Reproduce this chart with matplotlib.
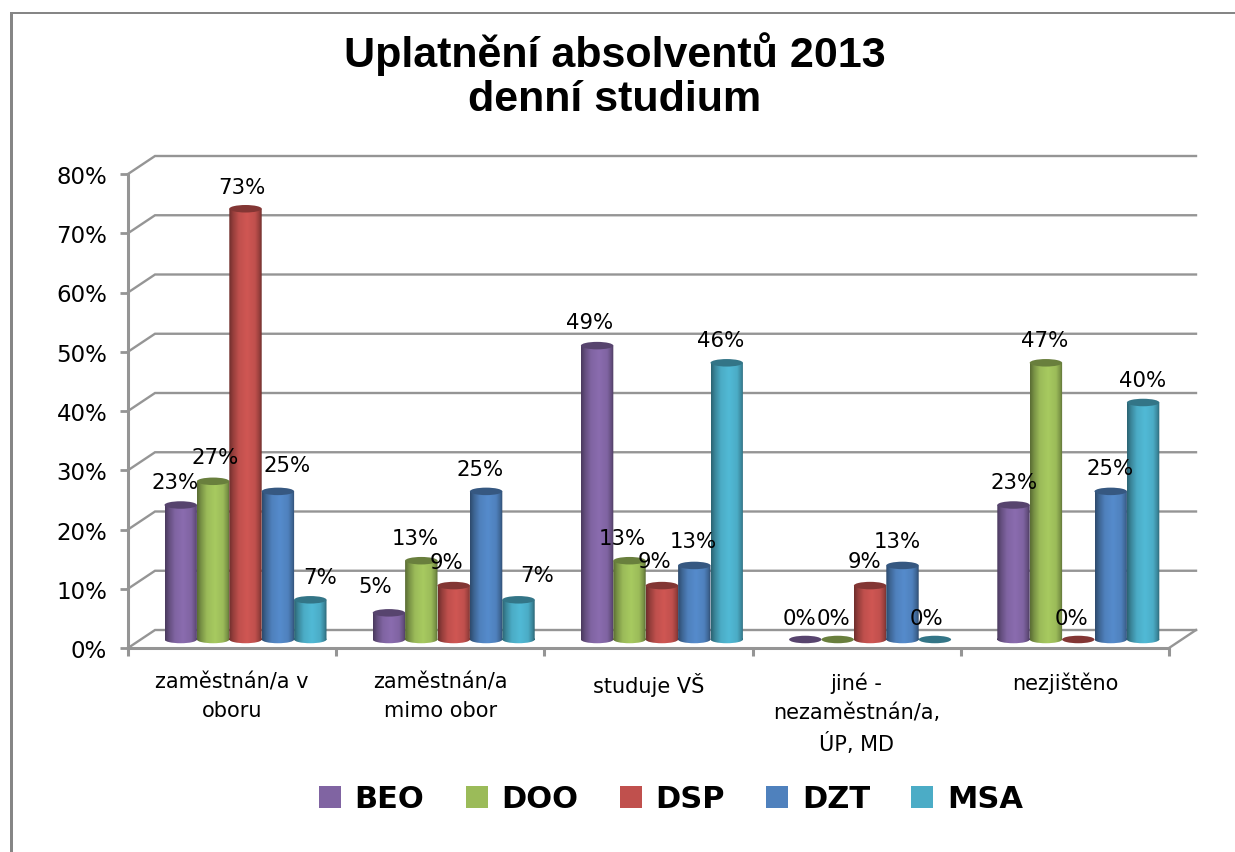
import numpy as np
import matplotlib
matplotlib.use('Agg')
import matplotlib.pyplot as plt
from matplotlib.patches import Ellipse, Patch, Rectangle
from matplotlib.path import Path
from matplotlib.colors import to_rgb

# Data
categorias = ['zaměstnán/a v\noboru', 'zaměstnán/a\nmimo obor', 'studuje VŠ',
              'jiné -\nnezaměstnán/a,\nÚP, MD', 'nezjištěno']
series = ['BEO', 'DOO', 'DSP', 'DZT', 'MSA']
beo = [22.7, 4.5, 49.6, 0, 22.7]
doo = [26.7, 13.3, 13.3, 0, 46.7]
dsp = [72.7, 9.1, 9.1, 9.1, 0]
dzt = [25, 25, 12.5, 12.5, 25]
msa = [6.7, 6.7, 46.7, 0, 40]
valores = [beo, doo, dsp, dzt, msa]

# Printed labels (they do not always round the way the bars do)
etq_beo = ['23%', '5%', '49%', '0%', '23%']
etq_doo = ['27%', '13%', '13%', '0%', '47%']
etq_dsp = ['73%', '9%', '9%', '9%', '0%']
etq_dzt = ['25%', '25%', '13%', '13%', '25%']
etq_msa = ['7%', '7%', '46%', '0%', '40%']
etiquetas = [etq_beo, etq_doo, etq_dsp, etq_dzt, etq_msa]

y_ticks = [0, 10, 20, 30, 40, 50, 60, 70, 80]
colores = ['#8064A2', '#9BBB59', '#C0504D', '#4F81BD', '#4BACC6']

# Label nudges in pixels from the bar top, per series
nudge_beo = [(-6, 23), (-14, 27), (-8, 24), (-6, 21), (1, 23)]
nudge_doo = [(2, 24), (-6, 23), (-7, 23), (-4, 21), (-1, 23)]
nudge_dsp = [(-4, 22), (-7, 24), (-7, 25), (-6, 25), (-7, 21)]
nudge_dzt = [(9, 26), (-6, 22), (-1, 24), (-5, 24), (-1, 23)]
nudge_msa = [(10, 23), (19, 25), (-6, 23), (-8, 21), (-1, 22)]
nudges = [nudge_beo, nudge_doo, nudge_dsp, nudge_dzt, nudge_msa]

W, H = 1235, 853
fig = plt.figure(figsize=(W / 100, H / 100), dpi=100, facecolor='white')
ax = fig.add_axes([128 / W, (H - 649) / H, 1041 / W, 474 / H])
ax.set_xlim(0, 5)
ax.set_ylim(0, 80)
ax.patch.set_alpha(0)

# Fake 3D depth, in data units
px_x = 5 / 1041
px_y = 80 / 474
fondo_x = 27 * px_x
fondo_y = 18 * px_y
barra_x = 13.5 * px_x
barra_y = 8.5 * px_y
ancho = 32.4 * px_x
margen = 23 * px_x
alto_elipse = 7.5 * px_y

gris = '#959595'

# Back wall lines
for t in y_ticks:
    ax.plot([0, fondo_x, 5 + fondo_x], [t, t + fondo_y, t + fondo_y],
            color=gris, lw=1.7, clip_on=False, zorder=1, solid_joinstyle='miter')
ax.plot([5, 5 + fondo_x], [0, fondo_y], color=gris, lw=1.7, clip_on=False, zorder=1)


def degradado(color):
    # dark edges, lighter in the middle, like the cylinder shading
    pos = np.array([0, 0.12, 0.3, 0.55, 0.8, 0.93, 1])
    luz = np.array([0.58, 0.78, 1.0, 1.08, 1.0, 0.78, 0.58])
    t = np.linspace(0, 1, 64)
    f = np.interp(t, pos, luz)
    img = np.clip(np.outer(f, to_rgb(color)), 0, 1)
    return img[np.newaxis, :, :]


# Bars as cylinders
for s, nombre in enumerate(series):
    color = colores[s]
    oscuro = tuple(c * 0.68 for c in to_rgb(color))
    x = np.arange(5) + barra_x + margen + (s + 0.5) * ancho
    rects = ax.bar(x, valores[s], ancho, bottom=barra_y, color=color, zorder=3 + s, clip_on=False)
    for i, r in enumerate(rects):
        v = valores[s][i]
        cx = x[i]
        tope = barra_y + v
        if v > 0:
            forma = Path.make_compound_path(
                r.get_path().transformed(r.get_patch_transform()),
                Path.unit_circle().transformed(
                    matplotlib.transforms.Affine2D().scale(ancho / 2, alto_elipse / 2).translate(cx, barra_y)))
            r.set_visible(False)
            im = ax.imshow(degradado(color), extent=[cx - ancho / 2, cx + ancho / 2, barra_y - alto_elipse, tope],
                           aspect='auto', zorder=3 + s, interpolation='bilinear')
            im.set_clip_path(forma, ax.transData)
        ax.add_patch(Ellipse((cx, tope), ancho, alto_elipse, facecolor=oscuro, edgecolor='none',
                             zorder=3 + s, clip_on=False))
        dx, dy = nudges[s][i]
        ax.annotate(etiquetas[s][i], (cx, tope), xytext=(dx, dy), textcoords='offset pixels',
                    ha='center', va='center', fontsize=15.3, color='black', zorder=20,
                    annotation_clip=False)

ax.set_xlim(0, 5)
ax.set_ylim(0, 80)

# Axes
for lado in ['top', 'right']:
    ax.spines[lado].set_visible(False)
for lado in ['left', 'bottom']:
    ax.spines[lado].set_color(gris)
    ax.spines[lado].set_linewidth(2.2)
    ax.spines[lado].set_zorder(2)

ax.set_yticks(y_ticks)
ax.set_yticklabels([f'{t}%' for t in y_ticks], fontsize=16.5, color='black')
ax.tick_params(axis='y', length=6, width=2, color=gris, pad=9)
ax.set_xticks(np.arange(6))
ax.set_xticklabels([])
ax.tick_params(axis='x', which='major', length=6, width=2.2, color=gris)
ax.set_xticks(np.arange(5) + 0.5, minor=True)
ax.set_xticklabels(categorias, minor=True, fontsize=15, color='black', linespacing=1.55)
ax.tick_params(axis='x', which='minor', length=0, pad=17)

# Title
fig.text(615 / W, 1 - 76 / H, 'Uplatnění absolventů 2013\ndenní studium', ha='center', va='center',
         fontsize=31, fontweight='bold', family='Liberation Sans', color='black', linespacing=1.15)

# Legend
marcas = [Patch(facecolor=c, edgecolor='none', label=n) for c, n in zip(colores, series)]
fig.legend(handles=marcas, loc='center', bbox_to_anchor=(671 / W, 1 - 800 / H), ncol=5, frameon=False,
           prop={'size': 22, 'weight': 'bold'}, handlelength=0.72, handleheight=0.72,
           handletextpad=0.45, columnspacing=1.35, borderpad=0, labelcolor='black')

# Outer frame, only the top and left edges show
fig.add_artist(Rectangle((10 / W, 0), 3 / W, 1 - 13 / H, transform=fig.transFigure,
                         facecolor='#868686', edgecolor='none'))
fig.add_artist(Rectangle((10 / W, 1 - 15 / H), 1 - 10 / W, 2 / H, transform=fig.transFigure,
                         facecolor='#868686', edgecolor='none'))

fig.savefig('out.png', dpi=100)
